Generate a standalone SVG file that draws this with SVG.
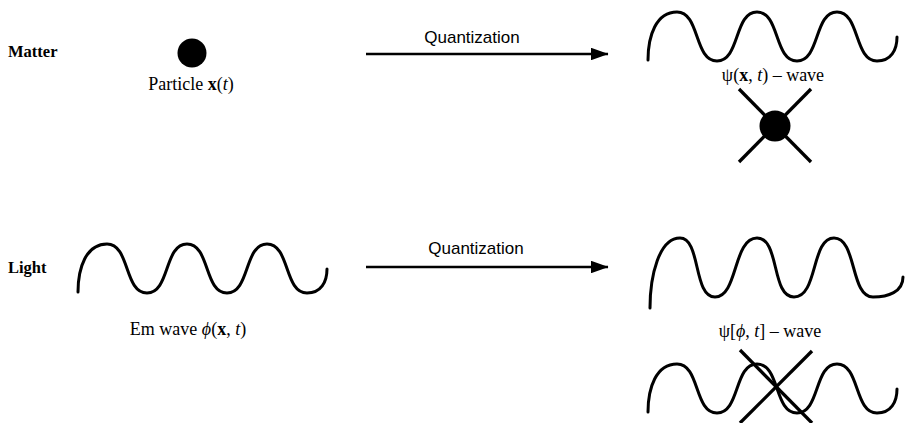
<svg xmlns="http://www.w3.org/2000/svg" width="915" height="423" viewBox="0 0 915 423">
<style>
.lbl{font-family:"Liberation Serif","Times New Roman",serif;font-size:18px;fill:#000}
.hd{font-family:"Liberation Serif","Times New Roman",serif;font-size:16.5px;font-weight:bold;fill:#000}
.q{font-family:"Liberation Sans",Arial,sans-serif;font-size:17px;fill:#000}
.wave{fill:none;stroke:#000;stroke-width:3;stroke-linecap:round}
.edge{fill:none;stroke:#000;stroke-width:2.5}
.x{stroke:#000;stroke-width:3.3}
.b{font-weight:bold}
.i{font-style:italic}
</style>
<defs>
<marker id="ah" markerWidth="7" markerHeight="5" refX="6.8" refY="2.5" orient="auto" markerUnits="strokeWidth">
<path d="M0,0 L7,2.5 L0,5 z" fill="#000"/>
</marker>
<path id="w" d="M648,60 C648,36 656,12 677,12 C700,12 694,61 717,61 C740,61 734,12 757,12 C780,12 774,61 797,61 C820,61 814,12 837,12 C860,12 854,61 877,61 C891,61 897,50 897,37"/>
</defs>

<g id="matter">
<text class="hd" x="8" y="57">Matter</text>
</g>

<g id="particle">
<circle cx="192" cy="53" r="14.5" fill="#000"/>
<text class="lbl" x="191" y="90" text-anchor="middle">Particle <tspan class="b">x</tspan>(<tspan class="i">t</tspan>)</text>
</g>

<g id="psi-wave-matter">
<use href="#w" class="wave"/>
<text class="lbl" x="773" y="81" text-anchor="middle">ψ(<tspan class="b">x</tspan>, <tspan class="i">t</tspan>) – wave</text>
</g>

<g id="crossed-particle">
<line class="x" x1="739" y1="89" x2="811" y2="162"/>
<line class="x" x1="811" y1="89" x2="739" y2="162"/>
<circle cx="775" cy="126" r="15.5" fill="#000"/>
</g>

<g id="light">
<text class="hd" x="8" y="273">Light</text>
</g>

<g id="em-wave">
<use href="#w" class="wave" transform="translate(-570,232)"/>
<text class="lbl" x="188" y="335" text-anchor="middle">Em wave <tspan class="i">ϕ</tspan>(<tspan class="b">x</tspan>, <tspan class="i">t</tspan>)</text>
</g>

<g id="psi-wave-light">
<path class="wave" d="M650,308 C650,276 659,238 680,238 C701,238 693,297 715,297 C738,297 733,238 757,238 C780,238 771,297 794,297 C818,297 811,238 834,238 C857,238 850,297 873,297 C888,297 903,292 903,277"/>
<text class="lbl" x="770" y="337" text-anchor="middle">ψ[<tspan class="i">ϕ</tspan>, <tspan class="i">t</tspan>] – wave</text>
</g>

<g id="crossed-wave">
<use href="#w" class="wave" transform="translate(0,352)"/>
<line class="x" x1="740" y1="350" x2="812" y2="423"/>
<line class="x" x1="812" y1="351" x2="740" y2="423"/>
</g>

<g id="connectors">
<line class="edge" x1="366" y1="54" x2="608" y2="54" marker-end="url(#ah)"/>
<text class="q" x="472" y="43" text-anchor="middle">Quantization</text>
<line class="edge" x1="366" y1="267" x2="608" y2="267" marker-end="url(#ah)"/>
<text class="q" x="476" y="254" text-anchor="middle">Quantization</text>
</g>
</svg>
